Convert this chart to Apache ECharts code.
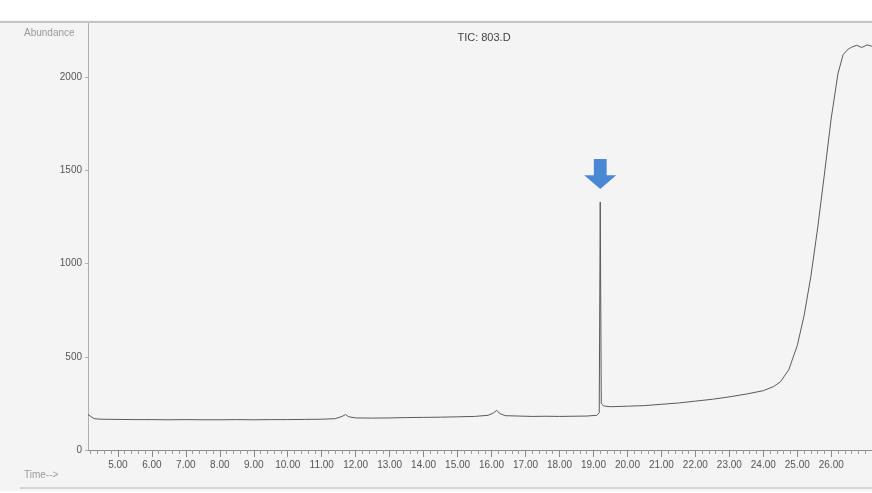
<!DOCTYPE html>
<html>
<head>
<meta charset="utf-8">
<script src="https://cdn.jsdelivr.net/npm/echarts@6/dist/echarts.min.js"></script>
<style>
  html, body { margin: 0; padding: 0; background: #ffffff; }
  #chart { width: 872px; height: 493px; }
</style>
</head>
<body>
<div id="chart"></div>
<script>
// Total ion chromatogram: retention time (min) vs. abundance
const times = [
  4.12, 4.3, 4.5, 5.0, 5.5, 6.0, 6.5, 7.0, 7.5, 8.0, 8.5, 9.0, 9.5, 10.0, 10.5,
  11.0, 11.4, 11.6, 11.7, 11.8, 12.0, 12.5, 13.0, 13.5, 14.0, 14.5, 15.0, 15.5,
  15.9, 16.05, 16.15, 16.25, 16.4, 16.8, 17.2, 17.6, 18.0, 18.4, 18.8, 19.1,
  19.17, 19.2, 19.23, 19.3, 19.5, 20.0, 20.5, 21.0, 21.5, 22.0, 22.5, 23.0,
  23.5, 24.0, 24.3, 24.5, 24.75, 25.0, 25.2, 25.4, 25.6, 25.8, 26.0, 26.2,
  26.35, 26.5, 26.6, 26.75, 26.9, 27.05, 27.2
];
const abundance = [
  190, 168, 165, 164, 163, 163, 162, 163, 162, 162, 163, 162, 163, 163, 164,
  165, 168, 180, 190, 178, 172, 171, 172, 174, 175, 176, 178, 180,
  186, 198, 212, 195, 184, 182, 180, 181, 180, 181, 182, 186,
  200, 1330, 250, 236, 232, 235, 238, 245, 252, 262, 272, 285,
  300, 318, 340, 365, 430, 560, 720, 930, 1190, 1480, 1780, 2020,
  2120, 2150, 2160, 2170, 2158, 2172, 2165
];
const xTickLabels = [5, 6, 7, 8, 9, 10, 11, 12, 13, 14, 15, 16, 17, 18, 19, 20, 21, 22, 23, 24, 25, 26];
const yTickLabels = [0, 500, 1000, 1500, 2000];
const markedPeakTime = 19.2;
const markedPeakValue = 1330;

// fine minor ticks every 0.2 min
const minorTicks = [];
for (let k = 21; k <= 136; k++) minorTicks.push(+(k * 0.2).toFixed(1));

const chart = echarts.init(document.getElementById('chart'));
const txt = '#555555';
const font = '"Liberation Sans", Arial, sans-serif';

chart.setOption({
  animation: false,
  backgroundColor: '#ffffff',
  title: {
    text: 'TIC: 803.D',
    left: 479, top: 27,
    textAlign: 'center',
    textStyle: { fontSize: 11, fontWeight: 'normal', color: '#444', fontFamily: font }
  },
  graphic: [
    { type: 'rect', z: -10, shape: { x: 0, y: 20, width: 872, height: 471 }, style: { fill: '#f4f4f4' } },
    { type: 'line', z: 5, shape: { x1: 0, y1: 22, x2: 872, y2: 22 }, style: { stroke: '#c4c4c4', lineWidth: 2 } },
    { type: 'line', z: 5, shape: { x1: 20, y1: 488, x2: 872, y2: 488 }, style: { stroke: '#d6d6d6', lineWidth: 2 } },
    { type: 'text', left: 24, top: 28, style: { text: 'Abundance', fontSize: 10, fill: '#9a9a9a', fontFamily: font } },
    { type: 'text', left: 24, top: 470, style: { text: 'Time-->', fontSize: 10, fill: '#9a9a9a', fontFamily: font } }
  ],
  grid: { left: 88, right: 0, top: 22, bottom: 43, containLabel: false },
  xAxis: [
    {
      type: 'value', min: 4.12, max: 27.2,
      axisLine: { show: true, lineStyle: { color: '#8a8a8a', width: 1 } },
      axisTick: { show: true, customValues: minorTicks, length: 4, lineStyle: { color: '#9a9a9a' } },
      axisLabel: {
        customValues: xTickLabels, margin: 10, color: txt, fontSize: 10, fontFamily: font,
        formatter: v => v.toFixed(2)
      },
      splitLine: { show: false }
    },
    {
      type: 'value', min: 4.12, max: 27.2, position: 'bottom',
      axisLine: { show: false },
      axisTick: { show: true, customValues: xTickLabels, length: 7, lineStyle: { color: '#8a8a8a' } },
      axisLabel: { show: false },
      splitLine: { show: false }
    }
  ],
  yAxis: {
    type: 'value', min: 0, max: 2295,
    axisLine: { show: true, lineStyle: { color: '#b0b0b0', width: 1 } },
    axisTick: { show: true, customValues: yTickLabels, length: 3, lineStyle: { color: '#b0b0b0' } },
    axisLabel: {
      customValues: yTickLabels, margin: 6, color: txt, fontSize: 10, fontFamily: font,
      formatter: v => String(v)
    },
    splitLine: { show: false }
  },
  series: [{
    type: 'line',
    data: times.map((t, i) => [t, abundance[i]]),
    showSymbol: false,
    lineStyle: { color: '#5a5a5a', width: 1 },
    markPoint: {
      silent: true,
      data: [{ coord: [markedPeakTime, markedPeakValue] }],
      symbol: 'path://M3,0 H7 V6 H10 L5,11 L0,6 H3 Z',
      symbolSize: [32, 30],
      symbolOffset: [0, -28],
      itemStyle: { color: '#4a88d4' },
      label: { show: false }
    }
  }]
});
</script>
</body>
</html>
